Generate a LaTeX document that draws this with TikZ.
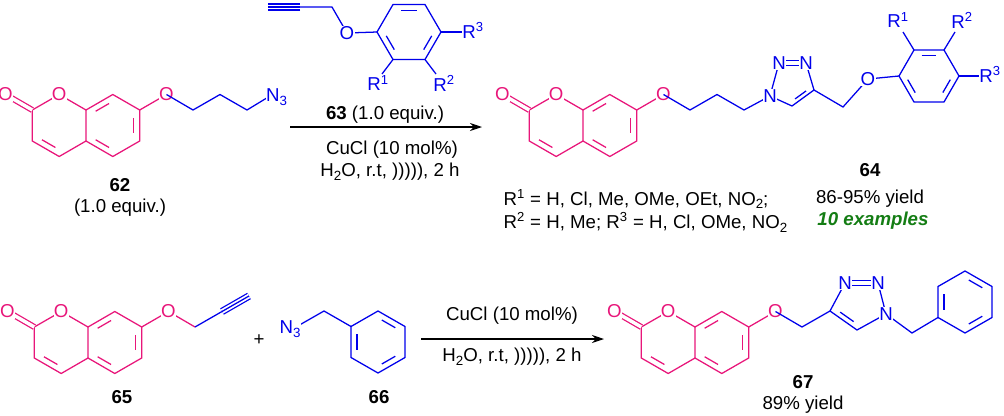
\documentclass[tikz,border=0pt]{standalone}
\usepackage{fontspec}
\setmainfont{Liberation Sans}
\usetikzlibrary{calc,arrows.meta}
\definecolor{mag}{RGB}{232,22,122}
\definecolor{blu}{RGB}{0,0,235}
\definecolor{grn}{RGB}{20,125,20}
\newcommand\lsub[1]{\raisebox{-0.4ex}{\fontsize{10}{10}\selectfont #1}}
\newcommand\dbl[3]{\draw ($(#1)!0.18!(#2)!0.22!(#3)$) -- ($(#2)!0.18!(#1)!0.22!(#3)$);}
\newcommand\coum[2]{%
\begin{scope}[shift={#1},draw=mag]
\coordinate (#2a) at (0,0);
\coordinate (#2o1) at (-26.8,-15.5);
\coordinate (#2c2) at (-53.7,0);
\coordinate (#2c3) at (-53.7,31);
\coordinate (#2c4) at (-26.8,46.5);
\coordinate (#2c4a) at (0,31);
\coordinate (#2c8) at (26.8,-15.5);
\coordinate (#2c7) at (53.7,0);
\coordinate (#2c6) at (53.7,31);
\coordinate (#2c5) at (26.8,46.5);
\coordinate (#2lc) at (-26.8,15.5);
\coordinate (#2rc) at (26.8,15.5);
\coordinate (#2oc) at (-80.5,-15.5);
\coordinate (#2o7) at (80.5,-15.5);
\draw (#2a)--(#2o1)--(#2c2)--(#2c3)--(#2c4)--(#2c4a)--(#2a)--(#2c8)--(#2c7)--(#2c6)--(#2c5)--(#2c4a);
\draw (#2c7)--(#2o7);
\draw[double,double distance=2.6pt] (#2c2)--(#2oc);
\dbl{#2c3}{#2c4}{#2lc}
\dbl{#2a}{#2c8}{#2rc}
\dbl{#2c7}{#2c6}{#2rc}
\dbl{#2c5}{#2c4a}{#2rc}
\node[atom,text=mag] (#2Oc) at (#2oc) {O};
\node[atom,text=mag] (#2O1) at (#2o1) {O};
\node[atom,text=mag] (#2O7) at (#2o7) {O};
\end{scope}}
\begin{document}
\begin{tikzpicture}[x=0.75pt,y=-0.75pt,line width=0.95pt,
  every node/.style={font=\fontsize{14}{16}\selectfont},
  atom/.style={fill=white,inner sep=0.3pt},
  lbl/.style={font=\fontsize{14}{16}\selectfont\bfseries},
  arr/.style={-{Stealth[length=9pt,width=6pt]},line width=0.8pt}]
\useasboundingbox (0,0) rectangle (1004,415);
% ===== 62 =====
\coum{(86,110)}{A}
\draw[blu] (166.5,94.5) -- (193,110) -- (220,94.5) -- (247,110) -- (270,96);
\node[atom,text=blu,anchor=west] (n62) at (265,97) {N\lsub{3}};
\node[lbl] (l62) at (120,185) {62};
\node (e62) at (120,208) {(1.0 equiv.)};
% ===== 63 =====
\begin{scope}[draw=blu]
\coordinate (b1) at (377,32); \coordinate (b2) at (393,4.5); \coordinate (b3) at (425,4.5);
\coordinate (b4) at (441,32); \coordinate (b5) at (425,59.5); \coordinate (b6) at (393,59.5);
\coordinate (bc) at (409,32);
\draw (b1)--(b2)--(b3)--(b4)--(b5)--(b6)--cycle;
\dbl{b2}{b3}{bc}\dbl{b4}{b5}{bc}\dbl{b6}{b1}{bc}
\draw (b1)--(347,33)--(332,7)--(300,7);
\draw[double,double distance=3.6pt] (300,7)--(268,7);
\draw (300,7)--(268,7);
\draw (b4)--(462,32);
\draw (b6)--(382,74);
\draw (b5)--(436,74);
\node[atom,text=blu] (o63) at (347,33) {O};
\node[text=blu,anchor=west,inner sep=0.5pt] (r3a) at (461,30) {R\textsuperscript{3}};
\node[text=blu,inner sep=0.5pt] (r1a) at (378,83) {R\textsuperscript{1}};
\node[text=blu,inner sep=0.5pt] (r2a) at (444,83) {R\textsuperscript{2}};
\end{scope}
% arrow 1
\coordinate (a1s) at (290,127); \coordinate (a1e) at (482,127);
\draw[arr] (a1s) -- (a1e);
\node (t63) at (385,115) {\textbf{63} (1.0 equiv.)};
\node (t1) at (392,150) {CuCl (10 mol\%)};
\node (t2) at (390,172) {H\lsub{2}O, r.t, ))))), 2 h};
% ===== 64 =====
\coum{(583,110)}{B}
\begin{scope}[draw=blu]
\coordinate (n1) at (770,96); \coordinate (n2) at (779,63); \coordinate (n3) at (806,63);
\coordinate (c4) at (814,90); \coordinate (c5) at (792,106); \coordinate (tc) at (792,84);
\draw (663.5,94.5) -- (690,110) -- (717,94.5) -- (744,110) -- (n1);
\draw (n1)--(n2); \draw[double,double distance=2.6pt] (n2)--(n3);
\draw (n3)--(c4)--(c5)--(n1);
\dbl{c4}{c5}{tc}
\coordinate (d1) at (899,76); \coordinate (d2) at (914,50); \coordinate (d3) at (944,50);
\coordinate (d4) at (959,76); \coordinate (d5) at (944,102); \coordinate (d6) at (914,102);
\coordinate (dc) at (929,76);
\draw (c4)--(843,107)--(868,79)--(d1);
\draw (d1)--(d2)--(d3)--(d4)--(d5)--(d6)--cycle;
\dbl{d2}{d3}{dc}\dbl{d4}{d5}{dc}\dbl{d6}{d1}{dc}
\draw (d2)--(903,32); \draw (d3)--(955,32); \draw (d4)--(979,76);
\node[atom,text=blu] (N1a) at (n1) {N};
\node[atom,text=blu] (N2a) at (n2) {N};
\node[atom,text=blu] (N3a) at (n3) {N};
\node[atom,text=blu] (o64) at (868,79) {O};
\node[text=blu,inner sep=0.5pt] (r1b) at (898,20) {R\textsuperscript{1}};
\node[text=blu,inner sep=0.5pt] (r2b) at (962,20) {R\textsuperscript{2}};
\node[text=blu,anchor=west,inner sep=0.5pt] (r3b) at (978,74) {R\textsuperscript{3}};
\end{scope}
\node[lbl] (l64) at (870,170) {64};
\node (y64) at (870,199) {86-95\% yield};
\node[text=grn,font=\fontsize{14}{16}\selectfont\bfseries\itshape] (x64) at (873,221) {10 examples};
\node[anchor=west,inner sep=0pt] (rr1) at (503,199) {R\textsuperscript{1} = H, Cl, Me, OMe, OEt, NO\lsub{2};};
\node[anchor=west,inner sep=0pt] (rr2) at (503,222) {R\textsuperscript{2} = H, Me; R\textsuperscript{3} = H, Cl, OMe, NO\lsub{2}};
% ===== 65 =====
\coum{(88,327)}{C}
\draw[mag] (168.5,311.5)--(195,327);
\draw[blu] (195,327)--(222,311.5);
\draw[blu,double,double distance=3.6pt] (222,311.5)--(249,296);
\draw[blu] (222,311.5)--(249,296);
\node[atom,text=mag] (o65) at (168.5,311.5) {O};
\node[lbl] (l65) at (122,397) {65};
\node (plus) at (259,340) {+};
% ===== 66 =====
\begin{scope}[draw=blu]
\coordinate (e1) at (378,311); \coordinate (e2) at (405,326.5); \coordinate (e3) at (405,357.5);
\coordinate (e4) at (378,373); \coordinate (e5) at (351,357.5); \coordinate (e6) at (351,326.5);
\coordinate (ec) at (378,342);
\draw (e1)--(e2)--(e3)--(e4)--(e5)--(e6)--cycle;
\dbl{e1}{e2}{ec}\dbl{e3}{e4}{ec}\dbl{e5}{e6}{ec}
\draw (e6)--(324,311)--(296,327);
\node[atom,text=blu] (n66) at (290,329) {N\lsub{3}};
\end{scope}
\node[lbl] (l66) at (379,397) {66};
% arrow 2
\coordinate (a2s) at (421,339); \coordinate (a2e) at (604,339);
\draw[arr] (a2s) -- (a2e);
\node (t3) at (512,316) {CuCl (10 mol\%)};
\node (t4) at (512,357) {H\lsub{2}O, r.t, ))))), 2 h};
% ===== 67 =====
\coum{(695,327)}{D}
\begin{scope}[draw=blu]
\coordinate (m4) at (830,311); \coordinate (m3) at (845,283); \coordinate (m2) at (878,283);
\coordinate (m1) at (886,314); \coordinate (m5) at (857,330); \coordinate (mc) at (859,304);
\draw (775.5,311.5)--(802,327)--(m4);
\draw (m4)--(m3); \draw[double,double distance=2.6pt] (m3)--(m2);
\draw (m2)--(m1)--(m5)--(m4);
\dbl{m4}{m5}{mc}
\coordinate (g1) at (965,271); \coordinate (g2) at (992,286.5); \coordinate (g3) at (992,317.5);
\coordinate (g4) at (965,333); \coordinate (g5) at (938,317.5); \coordinate (g6) at (938,286.5);
\coordinate (gc) at (965,302);
\draw (g1)--(g2)--(g3)--(g4)--(g5)--(g6)--cycle;
\dbl{g1}{g2}{gc}\dbl{g3}{g4}{gc}\dbl{g5}{g6}{gc}
\draw (m1)--(912,333)--(g5);
\node[atom,text=blu] (M3) at (m3) {N};
\node[atom,text=blu] (M2) at (m2) {N};
\node[atom,text=blu] (M1) at (m1) {N};
\end{scope}
\node[lbl] (l67) at (803,382) {67};
\node (y67) at (803,405) {89\% yield};
\end{tikzpicture}
\end{document}
